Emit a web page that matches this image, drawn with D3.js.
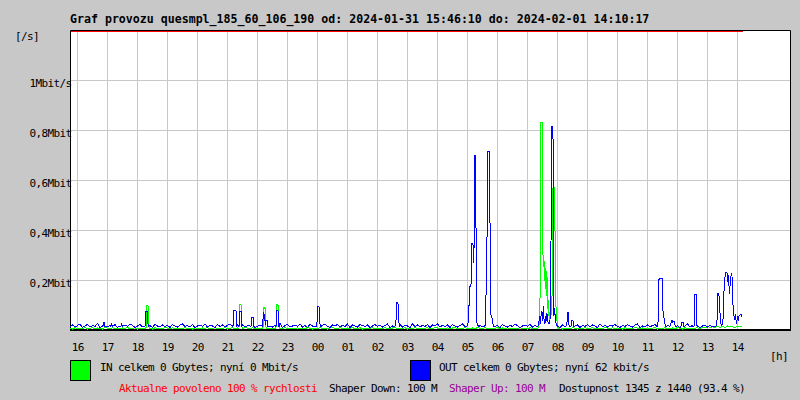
<!DOCTYPE html>
<html><head><meta charset="utf-8">
<script src="https://cdn.jsdelivr.net/npm/d3@7"></script>
<style>
html,body{margin:0;padding:0;background:#c8c8c8;}
svg{display:block;}
text{font-family:"DejaVu Sans Mono",monospace;}
</style></head><body>
<svg id="c" width="800" height="400"></svg>
<script>
// ---- data ----
const startTime = new Date(2024, 0, 31, 15, 46, 10);
const endTime = new Date(2024, 1, 1, 14, 10, 17);
const baseStep = 5; // minutes between baseline samples

// baseline traffic in kbit/s, one value every 5 minutes from 15:46
const outBase = [
 18,24,16,22,28,14,20,26,16,22,18,30,14,20,24,16,22,18,26,14,
 20,16,24,18,28,22,14,20,26,16,24,18,22,14,28,20,16,24,18,22,
 14,26,20,16,24,28,18,22,16,26,14,20,24,18,28,16,22,20,14,26,
 18,24,16,22,28,20,14,24,18,26,16,22,20,28,14,18,24,16,22,26,
 20,16,24,18,30,14,22,26,16,20,24,18,28,16,22,14,26,20,18,24,
 16,22,28,18,14,24,20,26,16,22,18,28,14,24,20,16,26,22,18,24,
 14,20,26,18,24,16,22,28,14,20,24,18,26,16,22,20,14,28,18,24,
 16,22,18,26,14,24,20,28,16,22,18,24,14,26,20,16,22,28,18,24,
 16,20,26,14,22,18,28,20,16,24,18,22,14,26,20,16,24,18,28,22,
 14,20,24,18,26,16,22,28,14,20,24,18,22,16,26,20,14,24,18,22,
 28,16,20,24,14,22,18,26,16,24,20,14,28,18,22,16,24,20,26,18,
 14,22,18,26,20,16,24,28,14,20,18,24,16,22,26,18,14,24,20,22,
 16,26,18,22,14,24,20,28,16,22,18,26,14,20,24,16,22,18,28,20,
 16,24,18,22,20,26,18,24,22
];
const inBase = [
 11,8,13,9,12,10,14,8,11,13,9,12,10,8,14,11,9,13,10,12,
 8,12,10,14,9,11,13,8,12,10,9,14,11,8,13,10,12,9,14,11,
 10,13,8,12,11,9,14,10,12,8,13,11,9,12,10,14,8,11,13,9,
 12,10,14,8,11,13,9,12,10,8,14,11,9,13,10,12,8,11,14,10,
 9,12,11,13,8,10,14,9,12,11,8,13,10,12,9,14,11,8,12,10,
 13,9,11,8,12,14,10,9,13,11,8,12,10,14,9,11,13,8,12,10,
 11,14,8,12,10,9,13,11,8,12,14,10,9,11,13,8,12,10,14,9,
 12,8,11,13,10,9,14,12,8,11,10,13,9,12,14,8,11,10,13,9,
 10,12,8,14,11,9,13,10,12,8,11,14,9,12,10,13,8,11,12,10,
 14,9,11,8,13,10,12,9,14,11,8,12,10,13,9,11,14,8,12,10,
 9,13,11,8,12,10,14,9,11,13,8,12,10,9,14,11,8,13,10,12,
 11,8,13,10,12,9,14,11,8,12,10,13,9,11,14,8,12,10,13,9,
 10,12,9,14,11,8,13,10,12,9,11,14,8,16,12,18,14,17,13,19,
 15,18,14,20,16,17,14,19,16
];

// bursts: [minute since start, kbit/s]
const outSpikes = [
 [[66,18],[67,33],[69,33],[70,18]],
 [[82,18],[83,30],[85,18]],
 [[102,18],[103,32],[105,18]],
 [[150,18],[151,50],[152,80],[154,80],[155,40],[157,18]],
 [[326,18],[327,30],[328,82],[332,82],[333,18]],
 [[338,18],[339,50],[340,80],[342,80],[343,18]],
 [[362,18],[364,56],[366,56],[368,18]],
 [[385,18],[387,76],[389,60],[391,24],[392,44],[394,44],[396,18]],
 [[412,18],[414,84],[416,84],[418,18]],
 [[493,18],[495,50],[496,100],[498,100],[499,40],[501,18]],
 [[650,18],[652,40],[654,113],[656,113],[657,50],[659,18]],
 [[794,18],[796,30],[798,97],[800,177],[802,180],[803,257],[804,351],[806,351],[807,272],[808,300],[809,551],[810,704],[811,704],[812,444],[813,100],[814,32],[816,22],[818,18]],
 [[828,18],[831,24],[833,244],[835,484],[836,717],[839,717],[840,464],[841,124],[842,64],[843,60],[844,52],[846,30],[848,18]],
 [[934,18],[936,20],[938,40],[940,60],[941,30],[942,60],[944,80],[945,40],[946,70],[947,100],[948,50],[950,30],[951,60],[952,40],[954,70],[955,40],[958,30],[960,30],[962,300],[963,820],[966,820],[967,280],[968,60],[969,90],[970,70],[971,40],[973,24],[976,18]],
 [[992,18],[994,30],[995,73],[997,73],[998,24],[1000,18]],
 [[1002,18],[1004,43],[1006,43],[1008,18]],
 [[1174,18],[1176,22],[1178,205],[1180,211],[1184,212],[1185,200],[1186,84],[1187,60],[1188,52],[1190,30],[1192,18]],
 [[1200,18],[1202,30],[1204,44],[1206,35],[1208,40],[1210,24],[1212,18]],
 [[1222,18],[1224,36],[1227,36],[1228,18]],
 [[1246,18],[1249,22],[1250,148],[1253,148],[1254,22],[1256,18]],
 [[1290,18],[1293,22],[1295,60],[1296,149],[1298,149],[1299,90],[1300,76],[1302,29],[1304,22],[1306,40],[1307,116],[1309,196],[1311,229],[1312,236],[1314,236],[1315,196],[1317,224],[1319,150],[1321,204],[1323,229],[1324,229],[1325,145],[1327,76],[1329,46],[1331,68],[1333,28],[1335,55],[1337,46],[1338,60],[1340,64],[1342,68],[1344,55]]
];
const inSpikes = [
 [[152,10],[153,104],[156,104],[157,30],[159,10]],
 [[338,10],[339,107],[342,107],[343,20],[345,10]],
 [[386,10],[387,96],[390,96],[391,20],[393,10]],
 [[412,10],[413,108],[416,108],[417,20],[419,10]],
 [[934,10],[936,10],[938,20],[940,110],[941,300],[942,835],[945,835],[946,310],[947,256],[948,290],[949,200],[950,262],[951,170],[952,250],[953,140],[954,230],[955,90],[956,130],[957,60],[958,80],[959,40],[960,50],[962,60],[964,120],[965,300],[966,570],[969,575],[970,420],[971,250],[972,100],[973,60],[974,40],[976,14],[978,10]],
 [[1341,17],[1344,16]]
];

const yTickValues = [200, 400, 600, 800, 1000];
const yTickLabels = ["0,2Mbit", "0,4Mbit", "0,6Mbit", "0,8Mbit", "1Mbit/s"];
const yMax = 1200;
const titleText = "Graf provozu quesmpl_185_60_106_190 od: 2024-01-31 15:46:10 do: 2024-02-01 14:10:17";
const yUnit = "[/s]";
const xUnit = "[h]";
const legendIn = "IN celkem 0 Gbytes; nyní 0 Mbit/s";
const legendOut = "OUT celkem 0 Gbytes; nyní 62 kbit/s";
const footer = [
 {t: "Aktualne povoleno 100 % rychlosti", c: "#ff0000", x: 119},
 {t: "Shaper Down: 100 M", c: "#000000", x: 329},
 {t: "Shaper Up: 100 M", c: "#990099", x: 449},
 {t: "Dostupnost 1345 z 1440 (93.4 %)", c: "#000000", x: 559}
];

// ---- helpers ----
function build(base, groups) {
  const ranges = groups.map(g => [g[0][0], g[g.length - 1][0]]);
  const pts = [];
  base.forEach((v, i) => {
    const m = i * baseStep;
    if (!ranges.some(r => m >= r[0] && m <= r[1])) pts.push([m, v]);
  });
  groups.forEach(g => g.forEach(p => pts.push(p)));
  pts.sort((a, b) => a[0] - b[0]);
  return pts;
}
const toTime = m => new Date(startTime.getTime() + m * 60000);

const svg = d3.select("#c");
const L = 70, R = 790, T = 30, B = 331;

const x = d3.scaleTime().domain([startTime, endTime]).range([70, 742]);
const y = d3.scaleLinear().domain([0, yMax]).range([B, B - 300]);

// background
svg.append("rect").attr("width", 800).attr("height", 400).attr("fill", "#c8c8c8");
svg.append("rect").attr("x", L).attr("y", T).attr("width", R - L).attr("height", B - T).attr("fill", "#ffffff");

// grid
const hours = d3.timeHour.every(1).range(d3.timeHour.ceil(startTime), endTime);
svg.append("g").selectAll("line").data(hours).join("line")
  .attr("x1", d => Math.round(x(d)) + 0.5).attr("x2", d => Math.round(x(d)) + 0.5)
  .attr("y1", T + 1).attr("y2", B - 2)
  .attr("stroke", "#c8c8c8").attr("stroke-width", 1);
svg.append("g").selectAll("line").data(yTickValues).join("line")
  .attr("x1", L + 1).attr("x2", R)
  .attr("y1", d => Math.round(y(d)) - 0.5).attr("y2", d => Math.round(y(d)) - 0.5)
  .attr("stroke", "#c8c8c8").attr("stroke-width", 1);

// y labels
const yAxis = d3.axisLeft(y).tickValues(yTickValues).tickFormat((d, i) => yTickLabels[i]).tickSize(0);
const yg = svg.append("g").attr("transform", "translate(71.6,0)").call(yAxis);
yg.select(".domain").remove();
yg.selectAll("text").attr("x", 0).attr("dy", null).attr("y", 5.3)
  .attr("font-family", "DejaVu Sans Mono").attr("font-size", 11)
  .style("letter-spacing", "-0.62px").attr("fill", "#000");

// x labels
const xAxis = d3.axisBottom(x).ticks(d3.timeHour.every(1)).tickFormat(d3.timeFormat("%H")).tickSize(0);
const xg = svg.append("g").attr("transform", "translate(0.3,340)").call(xAxis);
xg.select(".domain").remove();
xg.selectAll("text").attr("dy", null).attr("y", 11)
  .attr("font-family", "DejaVu Sans Mono").attr("font-size", 11)
  .style("letter-spacing", "-0.62px").attr("fill", "#000");

// border
svg.append("path")
  .attr("d", `M${L + 0.5},${B} V${T + 0.5} H${R + 0.5} V${B}`)
  .attr("fill", "none").attr("stroke", "#000").attr("stroke-width", 1);
svg.append("line").attr("x1", L).attr("x2", R + 1).attr("y1", B - 1).attr("y2", B - 1)
  .attr("stroke", "#000").attr("stroke-width", 2);

// data
const line = d3.line().x(d => x(toTime(d[0]))).y(d => y(d[1]));
svg.append("path").datum(build(inBase, inSpikes)).attr("d", line)
  .attr("fill", "none").attr("stroke", "#00ff00").attr("stroke-width", 1)
  .attr("shape-rendering", "crispEdges");
svg.append("path").datum(build(outBase, outSpikes)).attr("d", line)
  .attr("fill", "none").attr("stroke", "#0000ff").attr("stroke-width", 1)
  .attr("shape-rendering", "crispEdges");

// top limit line
svg.append("line").attr("x1", x(startTime) + 1).attr("x2", x(endTime) + 1)
  .attr("y1", T + 1.5).attr("y2", T + 1.5).attr("stroke", "#ff0000").attr("stroke-width", 1);

// texts
const txt = (s, xx, yy, opts = {}) => svg.append("text").attr("x", xx).attr("y", yy)
  .attr("font-size", opts.size || 11).attr("font-weight", opts.bold ? "bold" : null)
  .style("letter-spacing", opts.ls != null ? opts.ls : "-0.62px")
  .attr("fill", opts.fill || "#000").text(s);

txt(titleText, 70, 23, {size: 11.6, bold: true, ls: "0px"});
txt(yUnit, 15, 40);
txt(xUnit, 770, 360);

svg.append("rect").attr("x", 70.5).attr("y", 360.5).attr("width", 20).attr("height", 20)
  .attr("fill", "#00ff00").attr("stroke", "#000");
svg.append("rect").attr("x", 410.5).attr("y", 360.5).attr("width", 20).attr("height", 20)
  .attr("fill", "#0000ff").attr("stroke", "#000");
txt(legendIn, 100, 371);
txt(legendOut, 439, 371);
footer.forEach(f => txt(f.t, f.x, 392, {fill: f.c}));
</script>
</body></html>
